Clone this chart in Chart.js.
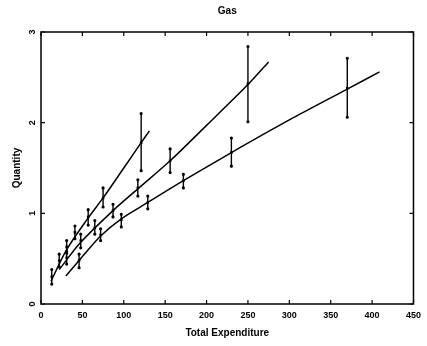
<!DOCTYPE html>
<html>
<head>
<meta charset="utf-8">
<script src="https://cdn.jsdelivr.net/npm/chart.js@4.4.0/dist/chart.umd.min.js"></script>
<style>
html, body { margin: 0; padding: 0; background: #fff; }
</style>
</head>
<body>
<canvas id="gasChart" width="427" height="346"></canvas>
<script>
// Données
var xTicks = [0, 50, 100, 150, 200, 250, 300, 350, 400, 450];
var yTicks = [0, 1, 2, 3];

// série A (la plus raide)
var aX  = [13, 22, 31, 41, 57, 75, 121];
var aY  = [0.30, 0.48, 0.63, 0.79, 0.96, 1.17, 1.78];
var aLo = [0.22, 0.41, 0.56, 0.72, 0.87, 1.07, 1.47];
var aHi = [0.38, 0.55, 0.70, 0.86, 1.04, 1.28, 2.10];

// série B
var bX  = [31, 48, 65, 87, 117, 156, 250];
var bY  = [0.51, 0.70, 0.84, 1.03, 1.28, 1.58, 2.43];
var bLo = [0.44, 0.62, 0.77, 0.96, 1.19, 1.45, 2.01];
var bHi = [0.58, 0.77, 0.92, 1.10, 1.37, 1.71, 2.84];

// série C
var cX  = [46, 72, 97, 129, 172, 230, 370];
var cY  = [0.48, 0.76, 0.93, 1.12, 1.36, 1.67, 2.38];
var cLo = [0.40, 0.70, 0.85, 1.05, 1.28, 1.52, 2.06];
var cHi = [0.55, 0.83, 0.99, 1.19, 1.43, 1.83, 2.71];

// courbes ajustées (points relevés le long des traits)
var fitAX = [12, 31, 57, 75, 100, 121, 131];
var fitAY = [0.25, 0.60, 0.95, 1.17, 1.50, 1.78, 1.91];
var fitBX = [22, 48, 87, 117, 156, 200, 250, 275];
var fitBY = [0.38, 0.68, 1.03, 1.27, 1.58, 1.97, 2.42, 2.67];
var fitCX = [30, 46, 72, 97, 129, 172, 230, 300, 370, 409];
var fitCY = [0.31, 0.48, 0.75, 0.94, 1.12, 1.36, 1.67, 2.03, 2.37, 2.56];

function toPoints(xs, ys) {
    var pts = [];
    for (var i = 0; i < xs.length; i++) {
        pts.push({ x: xs[i], y: ys[i] });
    }
    return pts;
}

var barSeries = [
    { x: aX, lo: aLo, hi: aHi },
    { x: bX, lo: bLo, hi: bHi },
    { x: cX, lo: cLo, hi: cHi }
];

var fontName = '"Liberation Sans", Arial, sans-serif';

// Plugin : barres d'erreur, cadre, graduations internes, titre
var extras = {
    id: 'extras',
    beforeDatasetsDraw: function(chart) {
        var ctx = chart.ctx;
        var xs = chart.scales.x, ys = chart.scales.y;
        ctx.save();
        ctx.strokeStyle = '#000';
        ctx.fillStyle = '#000';
        ctx.lineWidth = 1.4;
        barSeries.forEach(function(s) {
            for (var i = 0; i < s.x.length; i++) {
                var px = xs.getPixelForValue(s.x[i]);
                var top = ys.getPixelForValue(s.hi[i]);
                var bot = ys.getPixelForValue(s.lo[i]);
                ctx.beginPath();
                ctx.moveTo(px, top);
                ctx.lineTo(px, bot);
                ctx.stroke();
                ctx.beginPath();
                ctx.arc(px, top, 1.6, 0, Math.PI * 2);
                ctx.arc(px, bot, 1.6, 0, Math.PI * 2);
                ctx.fill();
            }
        });
        ctx.restore();
    },
    afterDraw: function(chart) {
        var ctx = chart.ctx;
        var a = chart.chartArea;
        var xs = chart.scales.x, ys = chart.scales.y;
        ctx.save();
        ctx.strokeStyle = '#000';
        ctx.lineWidth = 1.5;
        ctx.strokeRect(a.left, a.top, a.right - a.left, a.bottom - a.top);
        ctx.lineWidth = 1.2;
        ctx.beginPath();
        xTicks.forEach(function(v) {
            var px = xs.getPixelForValue(v);
            ctx.moveTo(px, a.bottom); ctx.lineTo(px, a.bottom - 4);
            ctx.moveTo(px, a.top); ctx.lineTo(px, a.top + 4);
        });
        yTicks.forEach(function(v) {
            var py = ys.getPixelForValue(v);
            ctx.moveTo(a.left, py); ctx.lineTo(a.left + 4, py);
            ctx.moveTo(a.right, py); ctx.lineTo(a.right - 4, py);
        });
        ctx.stroke();

        // étiquettes de l'axe Y, tournées
        ctx.fillStyle = '#000';
        ctx.font = 'bold 9px ' + fontName;
        ctx.textAlign = 'center';
        ctx.textBaseline = 'middle';
        yTicks.forEach(function(v) {
            var py = ys.getPixelForValue(v);
            ctx.save();
            ctx.translate(a.left - 8, py);
            ctx.rotate(-Math.PI / 2);
            ctx.fillText(String(v), 0, 0);
            ctx.restore();
        });

        // titre
        ctx.font = 'bold 10px ' + fontName;
        ctx.fillText('Gas', (a.left + a.right) / 2, 11);
        ctx.restore();
    }
};

var lineStyle = {
    showLine: true,
    borderColor: '#000',
    borderWidth: 1.5,
    pointRadius: 0,
    tension: 0.3,
    fill: false
};

function pointSet(label, xs, ys) {
    return {
        label: label,
        data: toPoints(xs, ys),
        showLine: false,
        pointStyle: 'rect',
        pointRadius: 1.8,
        backgroundColor: '#000',
        borderColor: '#000',
        borderWidth: 0
    };
}

var ctxGas = document.getElementById('gasChart').getContext('2d');

var gasChart = new Chart(ctxGas, {
    type: 'scatter',
    data: {
        datasets: [
            Object.assign({ label: 'fitA', data: toPoints(fitAX, fitAY) }, lineStyle),
            Object.assign({ label: 'fitB', data: toPoints(fitBX, fitBY) }, lineStyle),
            Object.assign({ label: 'fitC', data: toPoints(fitCX, fitCY) }, lineStyle),
            pointSet('A', aX, aY),
            pointSet('B', bX, bY),
            pointSet('C', cX, cY)
        ]
    },
    options: {
        responsive: false,
        animation: false,
        layout: {
            padding: { top: 32, right: 9, left: 0, bottom: 0 }
        },
        plugins: {
            legend: { display: false },
            tooltip: { enabled: false },
            title: { display: false }
        },
        scales: {
            x: {
                type: 'linear',
                min: 0,
                max: 450,
                grid: { display: false, drawTicks: false },
                border: { display: false },
                afterBuildTicks: function(scale) {
                    scale.ticks = xTicks.map(function(v) { return { value: v }; });
                },
                afterFit: function(scale) { scale.height = 42; },
                ticks: {
                    color: '#000',
                    padding: 6,
                    maxRotation: 0,
                    font: { family: fontName, size: 9, weight: 'bold' }
                },
                title: {
                    display: true,
                    text: 'Total Expenditure',
                    color: '#000',
                    padding: { top: 4, bottom: 7 },
                    font: { family: fontName, size: 10, weight: 'bold' }
                }
            },
            y: {
                type: 'linear',
                min: 0,
                max: 3,
                grid: { display: false, drawTicks: false },
                border: { display: false },
                afterBuildTicks: function(scale) {
                    scale.ticks = yTicks.map(function(v) { return { value: v }; });
                },
                afterFit: function(scale) { scale.width = 41; },
                ticks: { display: false },
                title: {
                    display: true,
                    text: 'Quantity',
                    color: '#000',
                    padding: { top: 11, bottom: 4 },
                    font: { family: fontName, size: 10, weight: 'bold' }
                }
            }
        }
    },
    plugins: [extras]
});
</script>
</body>
</html>
